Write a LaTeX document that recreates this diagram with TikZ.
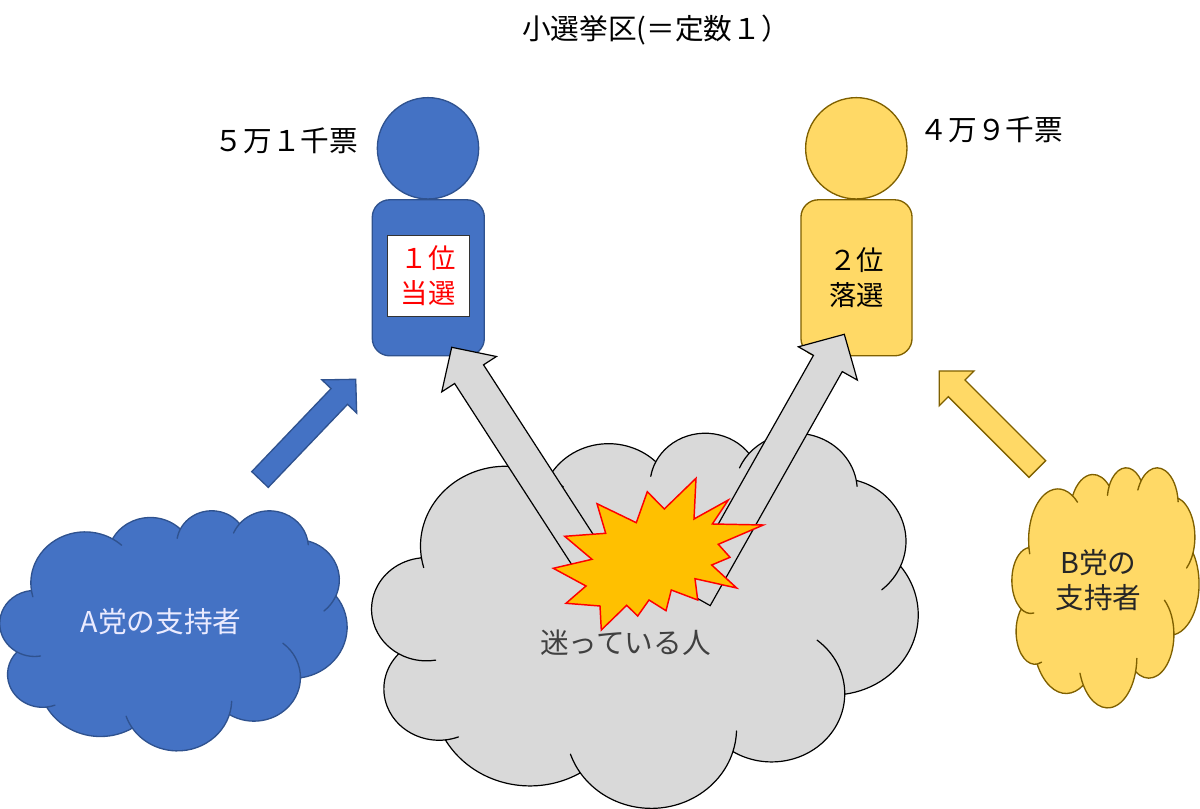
\documentclass[tikz,border=0pt]{standalone}
\usepackage{fontspec}
\setmainfont{Noto Sans CJK JP}
\usetikzlibrary{calc}
\definecolor{bluefill}{HTML}{4472C4}
\definecolor{blueline}{HTML}{2F528F}
\definecolor{yellowfill}{HTML}{FFD966}
\definecolor{yellowline}{HTML}{7F6000}
\definecolor{grayfill}{HTML}{D9D9D9}
\definecolor{burstfill}{HTML}{FFC000}
\tikzset{
  bluepart/.style={draw=blueline, fill=bluefill, line width=1pt},
  yellowpart/.style={draw=yellowline, fill=yellowfill, line width=1pt},
  graypart/.style={draw=black, fill=grayfill, line width=0.9pt},
  head/.style={circle, minimum size=76pt, inner sep=0pt},
  body/.style={rounded corners=13pt, align=center, inner sep=0pt},
  label/.style={inner sep=0pt, align=center, font=\fontsize{21.5}{26}\selectfont},
  rank/.style={inner sep=0pt, align=center, font=\fontsize{20.5}{26}\selectfont}
}
\pgfmathdeclarefunction{cloudang}{3}{%
  \begingroup\pgfmathparse{atan2(#1*sin(#3),#2*cos(#3))}\pgfmathsmuggle\pgfmathresult\endgroup}
% one lobe: radii, start, sweep, spur before, spur after
\newcommand{\cloudarc}[6]{
  arc[start angle={cloudang(#1,#2,#3)}, delta angle=-#5, x radius=#1pt, y radius=#2pt]
  arc[start angle={cloudang(#1,#2,#3)-#5}, delta angle={Mod(cloudang(#1,#2,#3+#4)-cloudang(#1,#2,#3),360)+#5+#6}, x radius=#1pt, y radius=#2pt]
  arc[start angle={cloudang(#1,#2,#3+#4)+#6}, delta angle=-#6, x radius=#1pt, y radius=#2pt]
}
\newcommand{\cloudshape}[5]{
  \begin{scope}[shift={(#1,#2)}, x=1pt, y=1pt, xscale=#3*0.75/432, yscale=-#4*0.75/432]
    \draw[#5, line join=round] (39,143.7)
      \cloudarc{67.53}{91.90}{-190.4875}{123.7805}{8}{12}
      \cloudarc{53.33}{72.67}{-144.1024}{89.9452}{0}{0}
      \cloudarc{43.65}{59.45}{-145.8079}{99.7230}{17}{0}
      \cloudarc{48.57}{65.95}{-130.9861}{117.2417}{17}{6}
      \cloudarc{53.33}{72.73}{-78.7089}{109.0281}{0}{27}
      \cloudarc{67.75}{92.20}{-46.2800}{130.2810}{0}{0}
      \cloudarc{57.85}{78.67}{0.6250}{114.0333}{52}{0}
      \cloudarc{67.52}{92.15}{22.4516}{115.1726}{15}{15}
      \cloudarc{77.20}{105.43}{66.2426}{75.7110}{0}{0}
      \cloudarc{43.60}{59.18}{-274.9421}{146.7356}{14}{0}
      \cloudarc{43.45}{59.45}{-246.8285}{152.5189}{40}{0}
      -- cycle;
  \end{scope}
}
% tail, tip, half width, half head width, head length, style
\newcommand{\blockarrow}[6]{
  \coordinate (bs) at ($(#2)!#5!(#1)$);
  \draw[#6, line join=miter] ($(#1)!#3!90:(#2)$) -- ($(bs)!#3!90:(#2)$) -- ($(bs)!#4!90:(#2)$) -- (#2)
    -- ($(bs)!#4!-90:(#2)$) -- ($(bs)!#3!-90:(#2)$) -- ($(#1)!#3!-90:(#2)$) -- cycle;
}
\begin{document}
\begin{tikzpicture}[x=0.75pt, y=-0.75pt]
\useasboundingbox (0,0) rectangle (1200,809);
\node[label, anchor=west] (title) at (522,30) {小選挙区(＝定数１）};

% left candidate
\node[head, bluepart] (heada) at (428,148.3) {};
\node[body, bluepart, minimum width=84pt, minimum height=117pt] (bodya) at (428.3,277.8) {};
\node[rank, draw=black!80, fill=white, line width=0.6pt, minimum width=61.5pt, minimum height=61.3pt, text=red] (ranka) at (428.3,275.8) {１位\\当選};
\node[label] (votesa) at (286.5,141) {５万１千票};

% right candidate
\node[head, yellowpart] (headb) at (856.3,148.3) {};
\node[body, rank, yellowpart, minimum width=83.3pt, minimum height=117pt] (bodyb) at (856.5,277.8) {２位\\落選};
\node[label] (votesb) at (991.5,130) {４万９千票};

% supporters
\cloudshape{0}{510}{347}{240}{bluepart}
\node[label, text=white!92!blue] (cloudalabel) at (161,622) {A党の支持者};
\cloudshape{1012}{467}{187}{240}{yellowpart}
\node[label, text=black!85] (cloudblabel) at (1098.5,580) {B党の\\支持者};
\cloudshape{372}{432}{546}{375}{graypart}
\node[label, text=black!75] (cloudclabel) at (625.5,643) {迷っている人};

% votes moving
\coordinate (taila) at (260,479.5);
\coordinate (tipa) at (355.7,379.3);
\blockarrow{taila}{tipa}{8.55pt}{18pt}{17.8pt}{bluepart}
\coordinate (tailb) at (1037.3,469);
\coordinate (tipb) at (939.3,371);
\blockarrow{tailb}{tipb}{8.85pt}{18.4pt}{18.4pt}{yellowpart}
\coordinate (tailc) at (597,572);
\coordinate (tipc) at (451.7,347.3);
\blockarrow{tailc}{tipc}{12.9pt}{24.4pt}{24pt}{graypart}
\coordinate (taild) at (695.8,597.5);
\coordinate (tipd) at (844.3,334.3);
\blockarrow{taild}{tipd}{12.4pt}{25.4pt}{25.1pt}{graypart}

% clash
\draw[draw=red, fill=burstfill, line width=1.1pt] (696,478.3) -- (694,519) -- (728.3,500) -- (712.3,524) -- (763.3,525) -- (718.3,544.3) -- (730,557.3) -- (711.7,565) -- (736.7,588) -- (695,578.7) -- (697.7,600) -- (671.3,590) -- (666,610.7) -- (649,600) -- (637.7,616) -- (626.7,605.3) -- (601.3,630) -- (600,606) -- (566,603.3) -- (586,586) -- (553.3,568.3) -- (592,559.3) -- (564.7,536.3) -- (605.7,533.3) -- (597,503.7) -- (636.3,522.7) -- (647.3,491.7) -- (664.3,509) -- cycle;
\end{tikzpicture}
\end{document}
